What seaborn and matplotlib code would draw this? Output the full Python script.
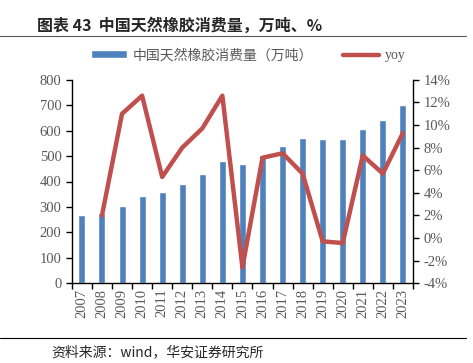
import matplotlib
matplotlib.use('Agg')
import numpy as np
import pandas as pd
import seaborn as sns
import matplotlib.pyplot as plt
from matplotlib.lines import Line2D
from matplotlib.ticker import FixedLocator, PercentFormatter

years = [2007, 2008, 2009, 2010, 2011, 2012, 2013, 2014, 2015,
         2016, 2017, 2018, 2019, 2020, 2021, 2022, 2023]
consumption = [270, 275, 305, 342, 360, 389, 428, 481, 468,
               503, 539, 570, 568, 566, 607, 642, 701]
yoy_years = years[1:]
yoy = [2.0, 11.0, 12.6, 5.4, 8.0, 9.7, 12.6, -2.6,
       7.1, 7.5, 5.7, -0.3, -0.45, 7.3, 5.7, 9.3]

bar_label = '中国天然橡胶消费量（万吨）'
line_label = 'yoy'

sns.set_style('ticks')
plt.rcParams['font.family'] = ['Liberation Serif', 'Noto Sans CJK SC']
plt.rcParams['axes.unicode_minus'] = False

bar_color = '#4F81BD'
line_color = '#C0504D'
grey = '#595959'

df_bar = pd.DataFrame({'year': years, 'val': consumption})
df_yoy = pd.DataFrame({'year': yoy_years, 'yoy': yoy})

fig = plt.figure(figsize=(4.73, 3.63), dpi=100)
ax = fig.add_axes([0.152, 0.220, 0.721, 0.560])

sns.barplot(data=df_bar, x='year', y='val', native_scale=True, width=0.35,
            color=bar_color, saturation=1, ax=ax, label=bar_label)
ax2 = ax.twinx()
sns.lineplot(data=df_yoy, x='year', y='yoy', color=line_color, linewidth=3.2,
             ax=ax2, label=line_label)

ax.set_xlim(years[0] - 0.5, years[-1] + 0.5)
ax.set_ylim(0, 800)
ax.set_yticks(range(0, 801, 100))
ax2.set_ylim(-4, 14)
ax2.set_yticks(range(-4, 15, 2))
ax2.yaxis.set_major_formatter(PercentFormatter(decimals=0))

ax.set_xticks(years)
ax.set_xticklabels([str(y) for y in years], rotation=90)
ax.xaxis.set_minor_locator(FixedLocator(np.arange(years[0] - 0.5, years[-1] + 1, 1)))
ax.tick_params(axis='x', which='major', length=0, pad=4)
ax.tick_params(axis='x', which='minor', length=4, width=1, color='black', direction='out')
for a in (ax, ax2):
    a.tick_params(axis='y', length=4, width=1, color='black', labelsize=10.5, labelcolor=grey)
ax.tick_params(axis='x', labelsize=10.5, labelcolor=grey)

ax.set_xlabel('')
ax.set_ylabel('')
ax2.set_xlabel('')
ax2.set_ylabel('')
for a in (ax, ax2):
    a.spines['top'].set_visible(False)
    for s in ('left', 'right', 'bottom'):
        a.spines[s].set_color('black')
        a.spines[s].set_linewidth(1)
ax.spines['right'].set_visible(False)
ax2.spines['left'].set_visible(False)
ax2.spines['bottom'].set_visible(False)

if ax.get_legend():
    ax.get_legend().remove()
if ax2.get_legend():
    ax2.get_legend().remove()
h1, l1 = ax.get_legend_handles_labels()
h2, l2 = ax2.get_legend_handles_labels()
leg = fig.legend(h1 + h2, l1 + l2, loc='center', bbox_to_anchor=(0.525, 0.848),
                 ncol=2, frameon=False, fontsize=10, handlelength=2.6,
                 handleheight=0.5, columnspacing=2.2, handletextpad=0.4)
for t in leg.get_texts():
    t.set_color(grey)
leg.get_texts()[0].set_family(['Noto Sans CJK SC'])
leg.get_texts()[0].set_fontweight('light')

fig.text(0.078, 0.93, '图表 43  中国天然橡胶消费量，万吨、%', fontsize=11.5,
         fontweight='bold', family=['Noto Sans CJK SC'], va='center')
fig.add_artist(Line2D([0, 0.985], [0.9, 0.9], color=grey, linewidth=0.8))
fig.add_artist(Line2D([0, 0.985], [0.068, 0.068], color='black', linewidth=0.8))
fig.text(0.108, 0.03, '资料来源：wind，华安证券研究所', fontsize=10,
         family=['Noto Sans CJK SC'], va='center')

fig.savefig('out.png', dpi=100)
